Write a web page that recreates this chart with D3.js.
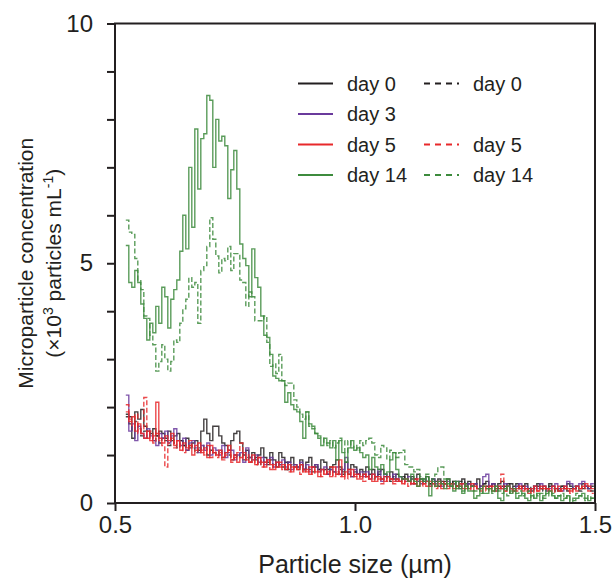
<!DOCTYPE html>
<html lang="en">
<head>
<meta charset="utf-8">
<title>Microparticle concentration</title>
<script src="https://cdn.jsdelivr.net/npm/d3@7"></script>
<style>
  body { margin: 0; background: #fff; }
  text { font-family: "Liberation Sans", Arial, sans-serif; fill: #231f20; }
</style>
</head>
<body>
<div class="chart"></div>
<script>
// histogram bins (µm)
var binStart = 0.5225;
var binWidth = 0.00625;

var xTickValues = [0.5, 1.0, 1.5];
var xTickLabels = ["0.5", "1.0", "1.5"];
var yTickValues = [0, 5, 10];
var yMinorTicks = [0, 1, 2, 3, 4, 5, 6, 7, 8, 9, 10];

// x10^3 particles per mL, solid = one sample type, dashed = the other
var day0 = [1.85,1.8,1.35,1.9,1.75,1.95,1.6,1.5,1.45,1.55,
  1.4,1.5,1.45,1.35,1.5,1.3,1.4,1.45,1.3,1.2,
  1.35,1.15,1.25,1.3,1.1,1.5,1.75,1.45,1.3,1.6,
  1.6,1.4,1.25,1.2,1.1,1.3,1.45,1.5,1.25,1.0,
  1.1,0.95,1.05,0.9,1.0,1.15,0.95,0.85,1.05,0.9,
  0.75,1.05,0.95,0.7,0.85,0.95,0.8,0.75,0.9,0.7,
  0.85,0.95,0.75,0.8,0.7,0.9,0.85,0.7,0.75,0.8,
  0.9,0.75,0.65,0.85,0.7,0.8,0.75,0.6,0.7,0.65,
  0.75,0.6,0.7,0.55,0.65,0.7,0.6,0.55,0.65,0.5,
  0.6,0.55,0.5,0.6,0.45,0.55,0.5,0.6,0.5,0.45,
  0.55,0.4,0.5,0.45,0.5,0.4,0.45,0.5,0.4,0.45,
  0.35,0.45,0.5,0.4,0.45,0.35,0.4,0.5,0.35,0.4,
  0.45,0.35,0.4,0.3,0.4,0.45,0.35,0.4,0.3,0.35,
  0.4,0.3,0.35,0.4,0.3,0.25,0.35,0.4,0.3,0.35,
  0.3,0.4,0.35,0.3,0.25,0.35,0.3,0.4,0.35,0.3,
  0.35,0.3,0.4,0.35,0.3,0.35];

var day3 = [2.25,1.5,1.65,1.3,1.6,1.45,1.35,1.55,1.4,1.3,
  1.2,1.45,1.35,1.5,1.25,1.4,1.55,1.3,1.2,1.35,
  1.1,1.25,1.3,1.15,1.05,1.2,1.1,1.25,1.0,1.15,
  1.1,1.0,1.2,0.95,1.05,1.1,0.9,1.0,1.05,0.85,
  1.15,0.95,0.9,1.0,0.85,0.95,0.8,0.9,0.95,0.75,
  0.85,0.8,0.9,0.75,0.85,0.7,0.8,0.75,0.85,0.7,
  0.8,0.65,0.75,0.8,0.65,0.7,0.75,0.6,0.7,0.65,
  0.75,0.6,0.7,0.95,0.65,0.55,0.7,0.6,0.65,0.55,
  0.65,0.5,0.6,0.55,0.7,0.45,0.6,0.55,0.5,0.6,
  0.45,0.55,0.5,0.45,0.55,0.4,0.5,0.45,0.4,0.5,
  0.45,0.35,0.5,0.4,0.45,0.35,0.4,0.45,0.35,0.4,
  0.45,0.3,0.4,0.35,0.4,0.35,0.4,0.3,0.35,0.55,
  0.6,0.35,0.4,0.25,0.35,0.3,0.4,0.35,0.3,0.25,
  0.35,0.4,0.3,0.35,0.25,0.3,0.35,0.3,0.4,0.35,
  0.25,0.3,0.35,0.4,0.3,0.25,0.35,0.45,0.4,0.3,
  0.35,0.4,0.45,0.35,0.3,0.4];

var day5 = [1.9,1.7,1.8,1.5,1.65,1.45,1.35,1.5,1.3,1.4,
  2.1,1.35,1.25,1.4,1.3,1.45,1.2,1.3,1.1,1.25,
  1.15,1.2,1.0,1.1,1.25,1.05,1.15,0.95,1.2,1.05,
  1.0,1.1,0.95,1.05,1.2,0.9,1.0,0.85,0.95,1.05,
  0.9,0.85,1.0,0.8,0.95,0.85,0.75,0.9,0.8,0.7,
  0.85,0.75,0.8,0.7,0.8,0.65,0.75,0.7,0.8,0.65,
  0.7,0.6,0.75,0.65,0.55,0.7,0.6,0.65,0.55,0.75,
  0.6,0.9,0.55,0.65,0.6,0.7,0.55,0.6,0.5,0.6,
  0.55,0.5,0.6,0.45,0.55,0.5,0.45,0.55,0.5,0.45,
  0.5,0.45,0.4,0.5,0.45,0.4,0.5,0.35,0.45,0.4,
  0.35,0.45,0.4,0.35,0.45,0.3,0.4,0.35,0.4,0.3,
  0.35,0.4,0.3,0.35,0.3,0.4,0.35,0.3,0.25,0.35,
  0.3,0.35,0.25,0.3,0.35,0.3,0.25,0.35,0.3,0.25,
  0.3,0.35,0.25,0.3,0.2,0.3,0.35,0.25,0.3,0.35,
  0.3,0.25,0.35,0.3,0.25,0.3,0.35,0.3,0.25,0.3,
  0.35,0.3,0.35,0.4,0.35,0.3];

var day14 = [5.37,4.6,4.5,4.85,4.6,4.15,3.85,3.4,3.75,3.55,
  4.1,3.75,4.5,4.3,3.65,4.25,4.45,4.65,5.25,6.0,
  5.3,7.0,5.75,7.8,6.55,7.6,7.7,8.5,8.4,7.0,
  8.0,7.55,7.65,7.45,6.35,6.95,7.35,6.55,5.4,5.1,
  4.95,4.3,5.3,4.7,4.5,3.9,3.5,3.45,3.1,2.65,
  2.6,2.55,2.55,2.1,2.3,2.05,1.95,1.9,1.7,1.35,
  1.9,1.65,1.6,1.45,1.35,1.2,1.35,1.25,1.15,1.3,
  0.9,1.3,1.05,0.85,1.15,1.3,1.1,1.15,1.05,0.95,
  1.0,0.7,0.95,0.75,0.7,0.8,0.6,0.65,0.9,1.05,
  0.7,0.55,0.5,0.5,0.45,0.6,0.45,0.35,0.5,0.45,
  0.55,0.15,0.45,0.35,0.45,0.4,0.3,0.5,0.35,0.25,
  0.45,0.3,0.2,0.35,0.25,0.25,0.1,0.15,0.3,0.2,
  0.2,0.3,0.25,0.35,0.1,0.05,0.3,0.35,0.2,0.25,
  0.1,0.15,0.2,0.1,0.05,0.15,0.1,0.2,0.05,0.15,
  0.2,0.25,0.15,0.1,0.15,0.05,0.1,0.15,0.0,0.05,
  0.1,0.15,0.2,0.1,0.05,0.1];

var day0Dash = [1.8,1.65,1.5,1.7,1.55,1.4,1.5,1.35,1.45,1.3,
  1.4,1.25,1.35,1.3,1.2,1.35,1.25,1.15,1.3,1.2,
  1.1,1.2,1.15,1.05,1.15,1.1,1.2,1.0,1.1,1.05,
  1.0,1.1,0.95,1.05,1.0,0.9,1.0,0.95,1.05,0.9,
  0.95,0.85,0.9,0.95,0.8,0.9,0.85,0.8,0.9,0.75,
  0.85,0.8,0.75,0.85,0.7,0.8,0.75,0.7,0.8,0.7,
  0.75,0.7,0.65,0.75,0.7,0.65,0.7,0.6,0.7,0.65,
  0.6,0.7,0.6,0.65,0.6,0.55,0.65,0.6,0.55,0.6,
  0.55,0.6,0.5,0.55,0.6,0.5,0.55,0.5,0.45,0.55,
  0.5,0.45,0.55,0.5,0.45,0.5,0.4,0.45,0.5,0.4,
  0.45,0.4,0.45,0.4,0.35,0.45,0.4,0.35,0.45,0.4,
  0.35,0.4,0.45,0.35,0.4,0.35,0.4,0.3,0.35,0.4,
  0.35,0.3,0.4,0.35,0.3,0.35,0.3,0.35,0.4,0.3,
  0.35,0.3,0.35,0.3,0.25,0.35,0.3,0.35,0.3,0.25,
  0.3,0.35,0.3,0.25,0.3,0.35,0.3,0.25,0.3,0.35,
  0.3,0.25,0.3,0.35,0.3,0.25];

var day5Dash = [2.05,1.75,1.6,1.85,1.45,1.55,2.2,1.35,1.5,1.25,
  1.45,1.3,1.2,0.75,1.25,1.35,1.15,1.3,1.2,1.05,
  1.1,1.3,1.15,1.2,1.05,1.1,1.0,1.2,0.95,1.1,
  0.95,1.05,0.9,1.0,1.1,0.85,0.95,1.05,1.25,0.9,
  1.0,0.85,0.9,0.8,0.95,0.75,0.85,0.9,0.7,0.8,
  0.75,0.85,0.7,0.8,0.65,0.75,0.7,0.8,0.6,0.7,
  0.65,0.75,0.6,0.7,0.65,0.55,0.7,0.6,0.75,0.55,
  0.65,0.55,0.6,0.5,0.7,0.55,0.6,0.5,0.55,0.45,
  0.6,0.5,0.45,0.55,0.5,0.4,0.55,0.45,0.5,0.4,
  0.45,0.5,0.4,0.45,0.35,0.45,0.4,0.5,0.35,0.4,
  0.45,0.35,0.4,0.3,0.4,0.35,0.45,0.3,0.35,0.4,
  0.3,0.35,0.4,0.3,0.35,0.25,0.35,0.3,0.3,0.35,
  0.25,0.3,0.35,0.25,0.3,0.6,0.25,0.3,0.2,0.3,
  0.25,0.3,0.35,0.25,0.3,0.2,0.3,0.25,0.35,0.3,
  0.25,0.3,0.2,0.3,0.35,0.25,0.3,0.25,0.2,0.3,
  0.25,0.3,0.35,0.3,0.25,0.2];

var day14Dash = [5.9,5.65,5.6,5.1,4.65,4.45,3.9,3.85,3.5,3.3,
  2.75,2.95,3.3,3.0,2.75,2.95,3.4,3.35,3.75,4.05,
  4.25,4.7,4.5,4.6,3.75,4.85,4.95,5.35,5.95,5.5,
  5.15,4.8,5.1,5.05,5.35,4.85,5.2,5.2,4.65,4.6,
  4.1,4.4,4.3,3.8,3.8,3.8,3.9,3.35,2.85,2.9,
  2.7,3.1,2.55,2.45,2.5,2.5,2.15,2.0,1.85,1.75,
  1.9,1.6,1.55,1.45,1.4,1.35,1.25,1.2,1.3,1.15,
  1.25,1.35,1.3,1.05,1.3,1.15,1.2,1.1,1.3,1.2,
  1.3,1.35,1.25,1.0,0.95,1.2,1.15,0.9,1.1,1.05,
  0.95,1.05,1.1,0.8,0.75,0.75,0.65,0.7,0.55,0.5,
  0.6,0.45,0.5,0.6,0.75,0.75,0.5,0.4,0.35,0.45,
  0.3,0.35,0.25,0.4,0.3,0.35,0.25,0.3,0.2,0.35,
  0.3,0.25,0.2,0.3,0.25,0.2,0.3,0.15,0.25,0.3,
  0.2,0.25,0.15,0.2,0.25,0.1,0.2,0.15,0.2,0.1,
  0.25,0.15,0.2,0.1,0.15,0.2,0.1,0.15,0.05,0.1,
  0.2,0.15,0.1,0.05,0.15,0.1];

var colors = { black: "#231f20", purple: "#6a3a9c", red: "#e8292b", green: "#3d8b3d" };

// drawing order: bottom first
var series = [
  { label: "day 0",  values: day0Dash,  color: colors.black,  dashed: true,  row: 0 },
  { label: "day 0",  values: day0,      color: colors.black,  dashed: false, row: 0 },
  { label: "day 3",  values: day3,      color: colors.purple, dashed: false, row: 1 },
  { label: "day 5",  values: day5,      color: colors.red,    dashed: false, row: 2 },
  { label: "day 5",  values: day5Dash,  color: colors.red,    dashed: true,  row: 2 },
  { label: "day 14", values: day14,     color: colors.green,  dashed: false, row: 3 },
  { label: "day 14", values: day14Dash, color: colors.green,  dashed: true,  row: 3 }
];

var w = 613, h = 581;
var margin = { left: 115, right: 18, top: 23.5, bottom: 78 };

var svg = d3.select("div.chart").append("svg")
  .attr("width", w).attr("height", h);

var x = d3.scaleLinear().domain([0.5, 1.5]).range([margin.left, w - margin.right]);
var y = d3.scaleLinear().domain([0, 10]).range([h - margin.bottom, margin.top]);

function stepPoints(vals) {
  var pts = vals.map(function (v, i) { return [binStart + i * binWidth, v]; });
  pts.push([Math.min(1.5, binStart + vals.length * binWidth), vals[vals.length - 1]]);
  return pts;
}

var line = d3.line()
  .x(function (d) { return x(d[0]); })
  .y(function (d) { return y(d[1]); })
  .curve(d3.curveStepAfter);

var plot = svg.append("g");
plot.selectAll("path.series")
  .data(series)
  .enter()
  .append("path")
  .attr("class", "series")
  .attr("d", function (d) { return line(stepPoints(d.values)); })
  .attr("fill", "none")
  .attr("stroke", function (d) { return d.color; })
  .attr("stroke-width", 1.4)
  .attr("stroke-opacity", 0.85)
  .attr("stroke-dasharray", function (d) { return d.dashed ? "5,2.5" : null; });

// frame
var axisColor = "#231f20";
svg.append("rect")
  .attr("x", x(0.5)).attr("y", y(10))
  .attr("width", x(1.5) - x(0.5)).attr("height", y(0) - y(10))
  .attr("fill", "none").attr("stroke", axisColor).attr("stroke-width", 2);

// y axis
var yAxis = d3.axisLeft(y).tickValues(yMinorTicks).tickSize(8)
  .tickFormat(function (d) { return yTickValues.indexOf(d) >= 0 ? d : ""; });
var gy = svg.append("g").attr("transform", "translate(" + x(0.5) + ",0)").call(yAxis);
gy.select(".domain").remove();
gy.selectAll("line").attr("stroke", axisColor).attr("stroke-width", 2);
gy.selectAll("text").attr("font-size", 24).attr("x", -22).attr("fill", "#231f20")
  .style("font-family", "'Liberation Sans', Arial, sans-serif");

// x axis
var xAxis = d3.axisBottom(x).tickValues(xTickValues).tickSize(8)
  .tickFormat(function (d, i) { return xTickLabels[i]; });
var gx = svg.append("g").attr("transform", "translate(0," + y(0) + ")").call(xAxis);
gx.select(".domain").remove();
gx.selectAll("line").attr("stroke", axisColor).attr("stroke-width", 2);
gx.selectAll("text").attr("font-size", 24).attr("y", 13).attr("fill", "#231f20")
  .style("font-family", "'Liberation Sans', Arial, sans-serif");

// axis titles
svg.append("text")
  .attr("x", (x(0.5) + x(1.5)) / 2).attr("y", 573)
  .attr("text-anchor", "middle").attr("font-size", 25)
  .text("Particle size (µm)");

var yTitle = svg.append("text")
  .attr("transform", "translate(33," + y(5) + ") rotate(-90)")
  .attr("text-anchor", "middle").attr("font-size", 21);
yTitle.append("tspan").attr("x", 0).attr("y", 0).text("Microparticle concentration");
var l2 = yTitle.append("tspan").attr("x", 0).attr("y", 28);
l2.append("tspan").text("(×10");
l2.append("tspan").attr("font-size", 14).attr("dy", -8).text("3");
l2.append("tspan").attr("dy", 8).text(" particles mL");
l2.append("tspan").attr("font-size", 14).attr("dy", -8).text("-1");
l2.append("tspan").attr("dy", 8).text(")");

// legend
var legendRows = [83.5, 114, 144.5, 175];
var legend = svg.append("g");
var legendItems = legend.selectAll("g.item")
  .data(series)
  .enter()
  .append("g")
  .attr("class", "item")
  .attr("transform", function (d) {
    return "translate(" + (d.dashed ? 424 : 298) + "," + legendRows[d.row] + ")";
  });
legendItems.append("line")
  .attr("x1", 0).attr("x2", 35).attr("y1", 0).attr("y2", 0)
  .attr("stroke", function (d) { return d.color; })
  .attr("stroke-width", 2)
  .attr("stroke-dasharray", function (d) { return d.dashed ? "6,5" : null; });
legendItems.append("text")
  .attr("x", 49).attr("y", 7)
  .attr("font-size", 20)
  .text(function (d) { return d.label; });
</script>
</body>
</html>
